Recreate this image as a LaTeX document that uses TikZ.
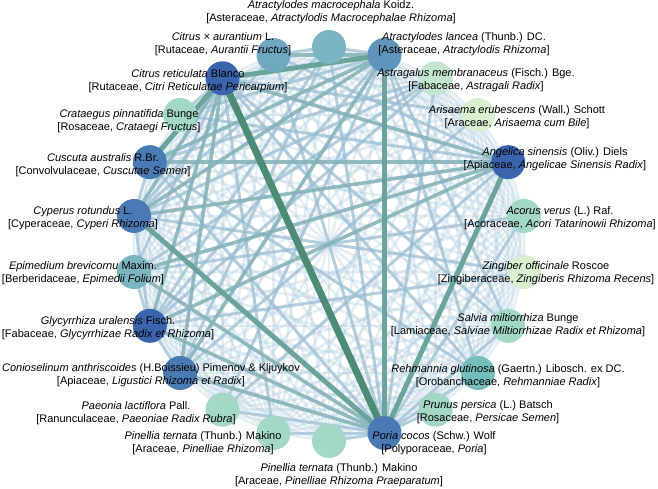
\documentclass[tikz,border=0pt]{standalone}
\usepackage{fontspec}
\setmainfont{Liberation Sans}
\usetikzlibrary{arrows.meta}
\pgfdeclarelayer{edges}
\pgfsetlayers{edges,main}
\definecolor{nwdeep}{HTML}{3A65AD}
\definecolor{nwblue}{HTML}{4A7AB4}
\definecolor{nwsteel}{HTML}{5F95BA}
\definecolor{nwsky}{HTML}{6FA8C0}
\definecolor{nwaqua}{HTML}{7BB5C2}
\definecolor{nwteal}{HTML}{74BFBE}
\definecolor{nwmint}{HTML}{A3D8C6}
\definecolor{nwpale}{HTML}{C4E5D0}
\definecolor{nwcream}{HTML}{DAEFD0}
\definecolor{nwline}{HTML}{A9C8DD}
\definecolor{nwlineb}{HTML}{9ABDD3}
\definecolor{nwgreena}{HTML}{84B2B8}
\definecolor{nwgreenb}{HTML}{66A199}
\definecolor{nwgreenc}{HTML}{4C8B76}
\newcommand{\herb}[2]{#1\\ {[}#2{]}}

\begin{document}
\begin{tikzpicture}[x=1pt, y=1pt,
  font=\fontsize{11}{13}\selectfont,
  hub/.style={circle, inner sep=0pt, minimum size=34pt},
  tag/.style={align=center, inner sep=0pt},
  wlite/.style={line width=2.6pt, draw=nwline, opacity=0.3},
  wblue/.style={line width=3pt, draw=nwlineb, opacity=0.65},
  wteal/.style={line width=3.6pt, draw=nwgreena, opacity=0.85},
  wstrong/.style={line width=5pt, draw=nwgreenb, opacity=0.95},
  wheavy/.style={line width=7pt, draw=nwgreenc}]
\useasboundingbox (0,0) rectangle (658,-489);

% ---- herbs on the ring ------------------------------------------------
\begin{scope}[shift={(329,-244)}]
\foreach \n/\col [count=\i from 0, evaluate=\i as \ang using 90+\i*360/22] in
  {am/nwaqua, ca/nwsky, cr/nwdeep, cp/nwmint, cu/nwblue, cy/nwblue,
   ep/nwaqua, gu/nwdeep, co/nwblue, pl/nwmint, pt/nwmint, pp/nwmint,
   pc/nwblue, pr/nwmint, rg/nwteal, sm/nwmint, zo/nwcream, av/nwmint,
   as/nwdeep, ae/nwcream, ag/nwpale, al/nwsteel}
  \node[hub, fill=\col] (\n) at (\ang:197) {};
\end{scope}

% ---- co-occurrence links ---------------------------------------------
\begin{pgfonlayer}{edges}
\foreach \a [count=\i] in {am,ca,cr,cp,cu,cy,ep,gu,co,pl,pt,pp,pc,pr,rg,sm,zo,av,as,ae,ag,al}
  \foreach \b [count=\j] in {am,ca,cr,cp,cu,cy,ep,gu,co,pl,pt,pp,pc,pr,rg,sm,zo,av,as,ae,ag,al}
    {\ifnum\j>\i \draw[wlite] (\a.center) -- (\b.center); \fi}
\foreach \a/\b in {ca/pc, am/pc, cr/sm, cr/rg, cy/ag, cu/ag, gu/ag, ep/av,
                   pl/al, pt/cr, pc/ag, pc/av, al/rg, al/sm, cr/ae, ca/as,
                   am/cy, am/gu, ca/cy, cu/cy, cy/gu, cr/cp, cp/al, cu/pc,
                   ep/cr, gu/al, pl/pc, pt/pc, pp/pc, pc/pr, pc/rg, pc/sm,
                   am/ca, am/al, ep/gu, co/gu, cy/zo, gu/zo, co/ae, ep/ag,
                   cp/as, cu/rg, pl/as, am/co}
  \draw[wblue] (\a.center) -- (\b.center);
\foreach \a/\b in {cr/as, al/cy, al/cu, gu/pc, cr/gu, co/pc, cu/as, ep/pc,
                   al/co, cr/cy, ca/al, gu/as, cr/co, ep/as, cy/as}
  \draw[wteal] (\a.center) -- (\b.center);
\foreach \a/\b in {al/pc, cr/al, cy/pc, as/pc, cr/cu}
  \draw[wstrong] (\a.center) -- (\b.center);
\draw[wheavy] (cr.center) -- (pc.center);
\end{pgfonlayer}

% ---- labels -----------------------------------------------------------
\node[tag] (lb-am) at (331,-12.5) {\herb{\textit{Atractylodes macrocephala} Koidz.}{Asteraceae, \textit{Atractylodis Macrocephalae Rhizoma}}};
\node[tag] (lb-ca) at (223,-44.5) {\herb{\textit{Citrus × aurantium} L.}{Rutaceae, \textit{Aurantii Fructus}}};
\node[tag] (lb-cr) at (188,-81) {\herb{\textit{Citrus reticulata} Blanco}{Rutaceae, \textit{Citri Reticulatae Pericarpium}}};
\node[tag] (lb-cp) at (129,-121) {\herb{\textit{Crataegus pinnatifida} Bunge}{Rosaceae, \textit{Crataegi Fructus}}};
\node[tag] (lb-cu) at (103,-165) {\herb{\textit{Cuscuta australis} R.Br.}{Convolvulaceae, \textit{Cuscutae Semen}}};
\node[tag] (lb-cy) at (83,-218) {\herb{\textit{Cyperus rotundus} L.}{Cyperaceae, \textit{Cyperi Rhizoma}}};
\node[tag] (lb-ep) at (83,-273) {\herb{\textit{Epimedium brevicornu} Maxim.}{Berberidaceae, \textit{Epimedii Folium}}};
\node[tag] (lb-gu) at (108,-328.5) {\herb{\textit{Glycyrrhiza uralensis} Fisch.}{Fabaceae, \textit{Glycyrrhizae Radix et Rhizoma}}};
\node[tag] (lb-co) at (151,-375.5) {\herb{\textit{Conioselinum anthriscoides} (H.Boissieu) Pimenov \& Kljuykov}{Apiaceae, \textit{Ligustici Rhizoma et Radix}}};
\node[tag] (lb-pl) at (136,-413) {\herb{\textit{Paeonia lactiflora} Pall.}{Ranunculaceae, \textit{Paeoniae Radix Rubra}}};
\node[tag] (lb-pt) at (203,-443.5) {\herb{\textit{Pinellia ternata} (Thunb.) Makino}{Araceae, \textit{Pinelliae Rhizoma}}};
\node[tag] (lb-pp) at (339,-475) {\herb{\textit{Pinellia ternata} (Thunb.) Makino}{Araceae, \textit{Pinelliae Rhizoma Praeparatum}}};
\node[tag] (lb-pc) at (434,-443.5) {\herb{\textit{Poria cocos} (Schw.) Wolf}{Polyporaceae, \textit{Poria}}};
\node[tag] (lb-pr) at (488,-412.5) {\herb{\textit{Prunus persica} (L.) Batsch}{Rosaceae, \textit{Persicae Semen}}};
\node[tag] (lb-rg) at (508,-376) {\herb{\textit{Rehmannia glutinosa} (Gaertn.) Libosch. ex DC.}{Orobanchaceae, \textit{Rehmanniae Radix}}};
\node[tag] (lb-sm) at (518,-325.5) {\herb{\textit{Salvia miltiorrhiza} Bunge}{Lamiaceae, \textit{Salviae Miltiorrhizae Radix et Rhizoma}}};
\node[tag] (lb-zo) at (546,-273.5) {\herb{\textit{Zingiber officinale} Roscoe}{Zingiberaceae, \textit{Zingiberis Rhizoma Recens}}};
\node[tag] (lb-av) at (560,-218) {\herb{\textit{Acorus verus} (L.) Raf.}{Acoraceae, \textit{Acori Tatarinowii Rhizoma}}};
\node[tag] (lb-as) at (555,-159) {\herb{\textit{Angelica sinensis} (Oliv.) Diels}{Apiaceae, \textit{Angelicae Sinensis Radix}}};
\node[tag] (lb-ae) at (517,-117) {\herb{\textit{Arisaema erubescens} (Wall.) Schott}{Araceae, \textit{Arisaema cum Bile}}};
\node[tag] (lb-ag) at (476,-80.5) {\herb{\textit{Astragalus membranaceus} (Fisch.) Bge.}{Fabaceae, \textit{Astragali Radix}}};
\node[tag] (lb-al) at (464,-44.5) {\herb{\textit{Atractylodes lancea} (Thunb.) DC.}{Asteraceae, \textit{Atractylodis Rhizoma}}};
\end{tikzpicture}
\end{document}
